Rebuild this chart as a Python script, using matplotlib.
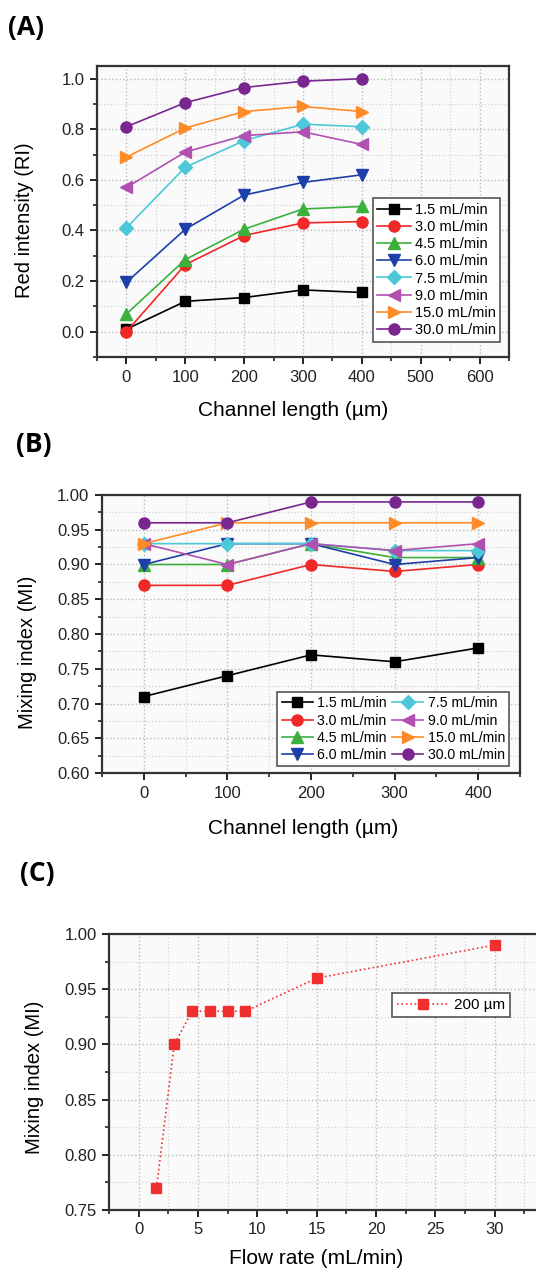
import matplotlib
matplotlib.use("Agg")
import matplotlib.pyplot as plt
from matplotlib.ticker import MultipleLocator

plt.rcParams['font.family'] = ['Liberation Sans', 'DejaVu Sans']

W, H = 536, 1269

# data
channel_len = [0, 100, 200, 300, 400]
flow_labels = ['1.5 mL/min', '3.0 mL/min', '4.5 mL/min', '6.0 mL/min',
               '7.5 mL/min', '9.0 mL/min', '15.0 mL/min', '30.0 mL/min']
colors = ['#000000', '#f02828', '#3cb03c', '#1e3fa8',
          '#4cc8d8', '#b050b0', '#ff8a28', '#7a2690']
markers = ['s', 'o', '^', 'v', 'D', '<', '>', 'o']
msizes = [7, 8, 8.5, 8.5, 7.5, 8.5, 8.5, 8]

red_intensity = [
    [0.01, 0.12, 0.135, 0.165, 0.155],
    [0.00, 0.265, 0.38, 0.43, 0.435],
    [0.07, 0.285, 0.405, 0.485, 0.495],
    [0.195, 0.405, 0.54, 0.59, 0.62],
    [0.41, 0.65, 0.755, 0.82, 0.81],
    [0.57, 0.71, 0.775, 0.79, 0.74],
    [0.69, 0.805, 0.87, 0.89, 0.87],
    [0.81, 0.905, 0.965, 0.99, 1.00],
]

mixing_index = [
    [0.71, 0.74, 0.77, 0.76, 0.78],
    [0.87, 0.87, 0.90, 0.89, 0.90],
    [0.90, 0.90, 0.93, 0.91, 0.91],
    [0.90, 0.93, 0.93, 0.90, 0.91],
    [0.93, 0.93, 0.93, 0.92, 0.92],
    [0.93, 0.90, 0.93, 0.92, 0.93],
    [0.93, 0.96, 0.96, 0.96, 0.96],
    [0.96, 0.96, 0.99, 0.99, 0.99],
]

flow_rate = [1.5, 3.0, 4.5, 6.0, 7.5, 9.0, 15.0, 30.0]
mixing_200um = [0.77, 0.90, 0.93, 0.93, 0.93, 0.93, 0.96, 0.99]
flow_ticks = [0, 5, 10, 15, 20, 25, 30]


def px_axes(left, top, right, bottom):
    return [left / W, 1 - bottom / H, (right - left) / W, (bottom - top) / H]


def fx(x):
    return x / W


def fy(y):
    return 1 - y / H


def style_axes(ax, xmaj, xmin, ymaj, ymin):
    ax.set_facecolor('#fafafa')
    for s in ax.spines.values():
        s.set_color('#333333')
        s.set_linewidth(1.6)
    ax.xaxis.set_major_locator(MultipleLocator(xmaj))
    ax.xaxis.set_minor_locator(MultipleLocator(xmin))
    ax.yaxis.set_major_locator(MultipleLocator(ymaj))
    ax.yaxis.set_minor_locator(MultipleLocator(ymin))
    ax.tick_params(which='major', direction='out', length=5, width=1.4,
                   labelsize=12, colors='#222222', pad=4)
    ax.tick_params(which='minor', direction='out', length=3, width=1.2,
                   colors='#222222')
    ax.grid(which='major', linestyle=':', color='#bbbbbb', linewidth=1.0)
    ax.grid(which='minor', linestyle=':', color='#d4d4d4', linewidth=0.9)
    ax.set_axisbelow(True)


fig = plt.figure(figsize=(W / 100, H / 100), dpi=100)
panel_font = ['Open Sans', 'DejaVu Sans']

# (A) red intensity
axA = fig.add_axes(px_axes(97, 66, 509, 357))
for i in range(len(flow_labels)):
    axA.plot(channel_len, red_intensity[i], color=colors[i], marker=markers[i],
             markersize=msizes[i], linewidth=1.2, label=flow_labels[i])
axA.set_xlim(-50, 650)
axA.set_ylim(-0.1, 1.05)
style_axes(axA, 100, 50, 0.2, 0.1)
axA.yaxis.set_major_formatter(plt.FormatStrFormatter('%.1f'))
legA = axA.legend(loc='center', bbox_to_anchor=(0.824, 0.299), fontsize=10.5,
                  handlelength=2.3, labelspacing=0.22, borderpad=0.3,
                  handletextpad=0.3, fancybox=False, framealpha=1)
legA.get_frame().set_edgecolor('#555555')
legA.get_frame().set_linewidth(1.2)
fig.text(fx(8), fy(28), '(A)', fontsize=19, fontweight='bold', va='center',
         family=panel_font)
fig.text(fx(25), fy(220), 'Red intensity (RI)', rotation=90, fontsize=14.5,
         ha='center', va='center')
fig.text(fx(293), fy(411), 'Channel length (µm)', fontsize=15,
         ha='center', va='center')

# (B) mixing index vs channel length
axB = fig.add_axes(px_axes(102, 495, 520, 773))
for i in range(len(flow_labels)):
    axB.plot(channel_len, mixing_index[i], color=colors[i], marker=markers[i],
             markersize=msizes[i], linewidth=1.2, label=flow_labels[i])
axB.set_xlim(-50, 450)
axB.set_ylim(0.6, 1.0)
style_axes(axB, 100, 50, 0.05, 0.025)
axB.yaxis.set_major_formatter(plt.FormatStrFormatter('%.2f'))
legB = axB.legend(loc='center', bbox_to_anchor=(0.697, 0.158), ncol=2,
                  fontsize=10.2, handlelength=2.2, labelspacing=0.22,
                  borderpad=0.3, handletextpad=0.3, columnspacing=0.4,
                  fancybox=False, framealpha=1)
legB.get_frame().set_edgecolor('#555555')
legB.get_frame().set_linewidth(1.2)
fig.text(fx(16), fy(444), '(B)', fontsize=19, fontweight='bold', va='center',
         family=panel_font)
fig.text(fx(28), fy(652), 'Mixing index (MI)', rotation=90, fontsize=14.5,
         ha='center', va='center')
fig.text(fx(303), fy(829), 'Channel length (µm)', fontsize=15,
         ha='center', va='center')

# (C) mixing index vs flow rate
axC = fig.add_axes(px_axes(109, 934, 554, 1210))
axC.plot(flow_rate, mixing_200um, color='#f03030', marker='s', markersize=7,
         linewidth=1.2, linestyle=':', label='200 µm')
axC.set_xlim(-2.5, 35)
axC.set_ylim(0.75, 1.0)
style_axes(axC, 5, 2.5, 0.05, 0.025)
axC.set_xticks(flow_ticks)
axC.yaxis.set_major_formatter(plt.FormatStrFormatter('%.2f'))
legC = axC.legend(loc='center', bbox_to_anchor=(0.769, 0.743), fontsize=11,
                  handlelength=3.3, borderpad=0.35, handletextpad=0.4,
                  fancybox=False, framealpha=1)
legC.get_frame().set_edgecolor('#555555')
legC.get_frame().set_linewidth(1.2)
fig.text(fx(20), fy(874), '(C)', fontsize=19, fontweight='bold', va='center',
         family=panel_font)
fig.text(fx(35), fy(1077), 'Mixing index (MI)', rotation=90, fontsize=14.5,
         ha='center', va='center')
fig.text(fx(316), fy(1259), 'Flow rate (mL/min)', fontsize=15,
         ha='center', va='center')

fig.savefig('out.png', dpi=100)
